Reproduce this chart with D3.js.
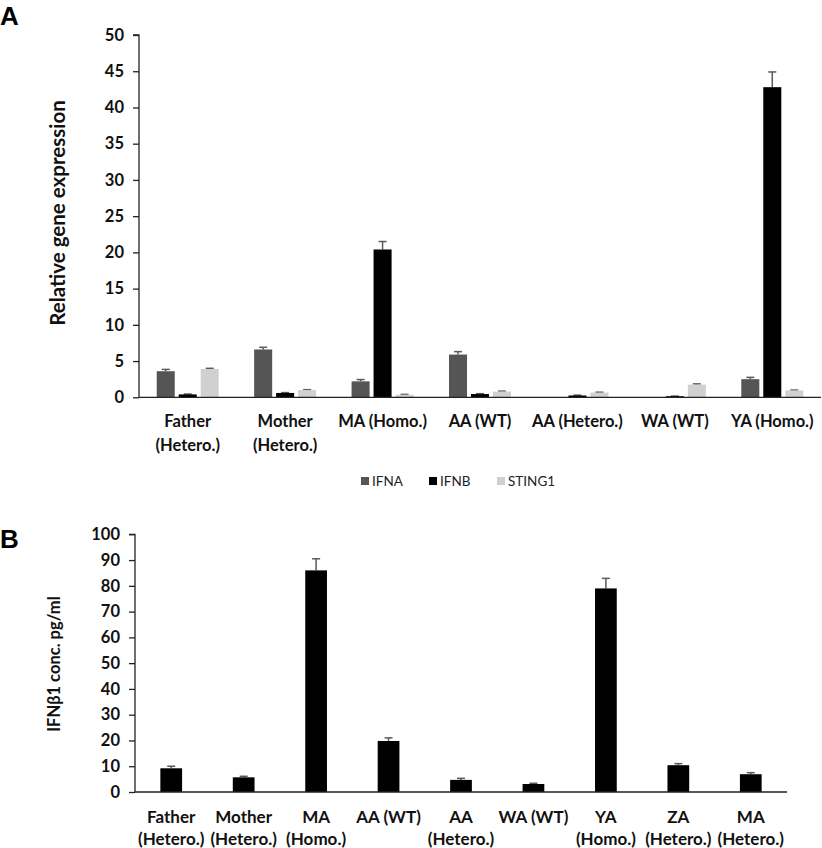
<!DOCTYPE html>
<html><head><meta charset="utf-8">
<script src="https://cdn.jsdelivr.net/npm/d3@7"></script>
<style>body{margin:0;background:#fff}svg{display:block;font-family:Lato,"Open Sans",sans-serif}</style>
</head><body><svg id="c" width="822" height="848"></svg>
<script>
// Panel A data
const groupsA = [["Father","(Hetero.)"],["Mother","(Hetero.)"],["MA (Homo.)"],["AA (WT)"],["AA (Hetero.)"],["WA (WT)"],["YA (Homo.)"]];
const seriesA = ["IFNA","IFNB","STING1"];
const ifna = [3.6, 6.6, 2.2, 5.9, 0, 0, 2.5];
const ifnaErr = [0.25, 0.3, 0.25, 0.4, 0, 0, 0.25];
const ifnb = [0.4, 0.6, 20.4, 0.45, 0.25, 0.15, 42.8];
const ifnbErr = [0.05, 0.05, 1.1, 0.05, 0.05, 0.02, 2.1];
const sting1 = [3.9, 1.0, 0.35, 0.8, 0.65, 1.75, 0.95];
const sting1Err = [0.1, 0.05, 0.05, 0.05, 0.05, 0.1, 0.05];
const ticksA = [0,5,10,15,20,25,30,35,40,45,50];
// Panel B data
const groupsB = [["Father","(Hetero.)"],["Mother","(Hetero.)"],["MA","(Homo.)"],["AA (WT)"],["AA","(Hetero.)"],["WA (WT)"],["YA","(Homo.)"],["ZA","(Hetero.)"],["MA","(Hetero.)"]];
const ifnb1 = [9.2, 5.7, 86.0, 19.8, 4.7, 3.1, 79.0, 10.4, 6.9];
const ifnb1Err = [0.8, 0.4, 4.5, 1.2, 0.6, 0.3, 3.9, 0.6, 0.6];
const ticksB = [0,10,20,30,40,50,60,70,80,90,100];

const colors = {IFNA:"#555555", IFNB:"#000000", STING1:"#d0d0d0"};
const errColor = "#5a5a5a";
const svg = d3.select("#c");

// ---------- Panel A ----------
const valsA = {IFNA:ifna, IFNB:ifnb, STING1:sting1};
const errsA = {IFNA:ifnaErr, IFNB:ifnbErr, STING1:sting1Err};
const keysA = groupsA.map(g=>g.join(" "));
const xA = d3.scaleBand().domain(keysA).range([139, 821]).padding(0);
const groupW = 62;
const x1 = d3.scaleBand().domain(seriesA).range([0, groupW]).paddingInner(0.18);
const yA = d3.scaleLinear().domain([0,50]).range([397.3, 35]);

svg.append("text").attr("x",0).attr("y",25).attr("font-family","Liberation Sans, Arial").attr("font-weight","bold").attr("font-size",26).text("A");

const gA = svg.append("g");
const axA = gA.append("g").attr("transform","translate(139,0)")
  .call(d3.axisLeft(yA).tickValues(ticksA).tickSize(6).tickPadding(9).tickFormat(d3.format("d")));
axA.select(".domain").attr("stroke","#222").attr("stroke-width",1.3).attr("d",`M-6,${yA(50)}H0V${yA(0)}`);
axA.selectAll(".tick line").attr("stroke","#222").attr("stroke-width",1.3);
axA.selectAll(".tick text").attr("font-size",16.5).attr("font-weight","bold").attr("fill","#111").attr("font-family","Lato");

seriesA.forEach(s=>{
  keysA.forEach((k,i)=>{
    const v = valsA[s][i];
    const bx = xA(k) + (xA.bandwidth()-groupW)/2 + x1(s);
    const bw = x1.bandwidth();
    if (v>0) {
      const e = errsA[s][i];
      if (e>0) {
        const cx = bx + bw/2;
        gA.append("line").attr("x1",cx).attr("x2",cx).attr("y1",yA(v)).attr("y2",yA(v+e)).attr("stroke",errColor).attr("stroke-width",1.5);
        gA.append("line").attr("x1",cx-4).attr("x2",cx+4).attr("y1",yA(v+e)).attr("y2",yA(v+e)).attr("stroke",errColor).attr("stroke-width",1.5);
      }
      gA.append("rect").attr("x",bx).attr("width",bw).attr("y",yA(v)).attr("height",yA(0)-yA(v)).attr("fill",colors[s]);
    }
  });
});
gA.append("line").attr("x1",139).attr("x2",821).attr("y1",yA(0)).attr("y2",yA(0)).attr("stroke","#222").attr("stroke-width",1.3);

keysA.forEach((k,i)=>{
  const t = gA.append("text").attr("text-anchor","middle").attr("font-size",16.5).attr("font-weight","bold").attr("fill","#111")
    .attr("x", xA(k)+xA.bandwidth()/2).attr("y",427);
  groupsA[i].forEach((line,j)=>t.append("tspan").attr("x",xA(k)+xA.bandwidth()/2).attr("dy", j===0?0:24).text(line));
});

svg.append("text").attr("transform","translate(65,213) rotate(-90)").attr("text-anchor","middle")
  .attr("font-size",20.5).attr("font-weight","bold").attr("fill","#111").text("Relative gene expression");

// legend
const legX = d3.scaleOrdinal().domain(seriesA).range([361, 429, 497]);
seriesA.forEach(s=>{
  svg.append("rect").attr("x",legX(s)).attr("y",477).attr("width",8).attr("height",8).attr("fill",colors[s]);
  svg.append("text").attr("x",legX(s)+11).attr("y",486).attr("font-size",13.5).attr("fill","#222").text(s);
});

// ---------- Panel B ----------
const keysB = groupsB.map((g,i)=>i+"|"+g.join(" "));
const xB = d3.scaleBand().domain(keysB).range([135, 787]).paddingInner(0.7).paddingOuter(0.35);
const yB = d3.scaleLinear().domain([0,100]).range([792, 534.3]);

svg.append("text").attr("x",0).attr("y",548).attr("font-family","Liberation Sans, Arial").attr("font-weight","bold").attr("font-size",26).text("B");

const gB = svg.append("g");
const axB = gB.append("g").attr("transform","translate(135,0)")
  .call(d3.axisLeft(yB).tickValues(ticksB).tickSize(6).tickPadding(9).tickFormat(d3.format("d")));
axB.select(".domain").attr("stroke","#222").attr("stroke-width",1.3).attr("d",`M-6,${yB(100)}H0V${yB(0)}`);
axB.selectAll(".tick line").attr("stroke","#222").attr("stroke-width",1.3);
axB.selectAll(".tick text").attr("font-size",16.5).attr("font-weight","bold").attr("fill","#111").attr("font-family","Lato");

keysB.forEach((k,i)=>{
  const v = ifnb1[i], e = ifnb1Err[i];
  const bx = xB(k), bw = xB.bandwidth(), cx = bx+bw/2;
  gB.append("line").attr("x1",cx).attr("x2",cx).attr("y1",yB(v)).attr("y2",yB(v+e)).attr("stroke",errColor).attr("stroke-width",1.5);
  gB.append("line").attr("x1",cx-4).attr("x2",cx+4).attr("y1",yB(v+e)).attr("y2",yB(v+e)).attr("stroke",errColor).attr("stroke-width",1.5);
  gB.append("rect").attr("x",bx).attr("width",bw).attr("y",yB(v)).attr("height",yB(0)-yB(v)).attr("fill","#000");
});
gB.append("line").attr("x1",135).attr("x2",787).attr("y1",yB(0)).attr("y2",yB(0)).attr("stroke","#222").attr("stroke-width",1.3);

keysB.forEach((k,i)=>{
  const cx = xB(k)+xB.bandwidth()/2;
  const t = gB.append("text").attr("text-anchor","middle").attr("font-size",17).attr("font-weight","bold").attr("fill","#111")
    .attr("x",cx).attr("y",823);
  groupsB[i].forEach((line,j)=>t.append("tspan").attr("x",cx).attr("dy", j===0?0:22).text(line));
});

svg.append("text").attr("transform","translate(60,664) rotate(-90)").attr("text-anchor","middle")
  .attr("font-size",16.5).attr("font-weight","bold").attr("fill","#111").text("IFNβ1 conc. pg/ml");
</script></body></html>
